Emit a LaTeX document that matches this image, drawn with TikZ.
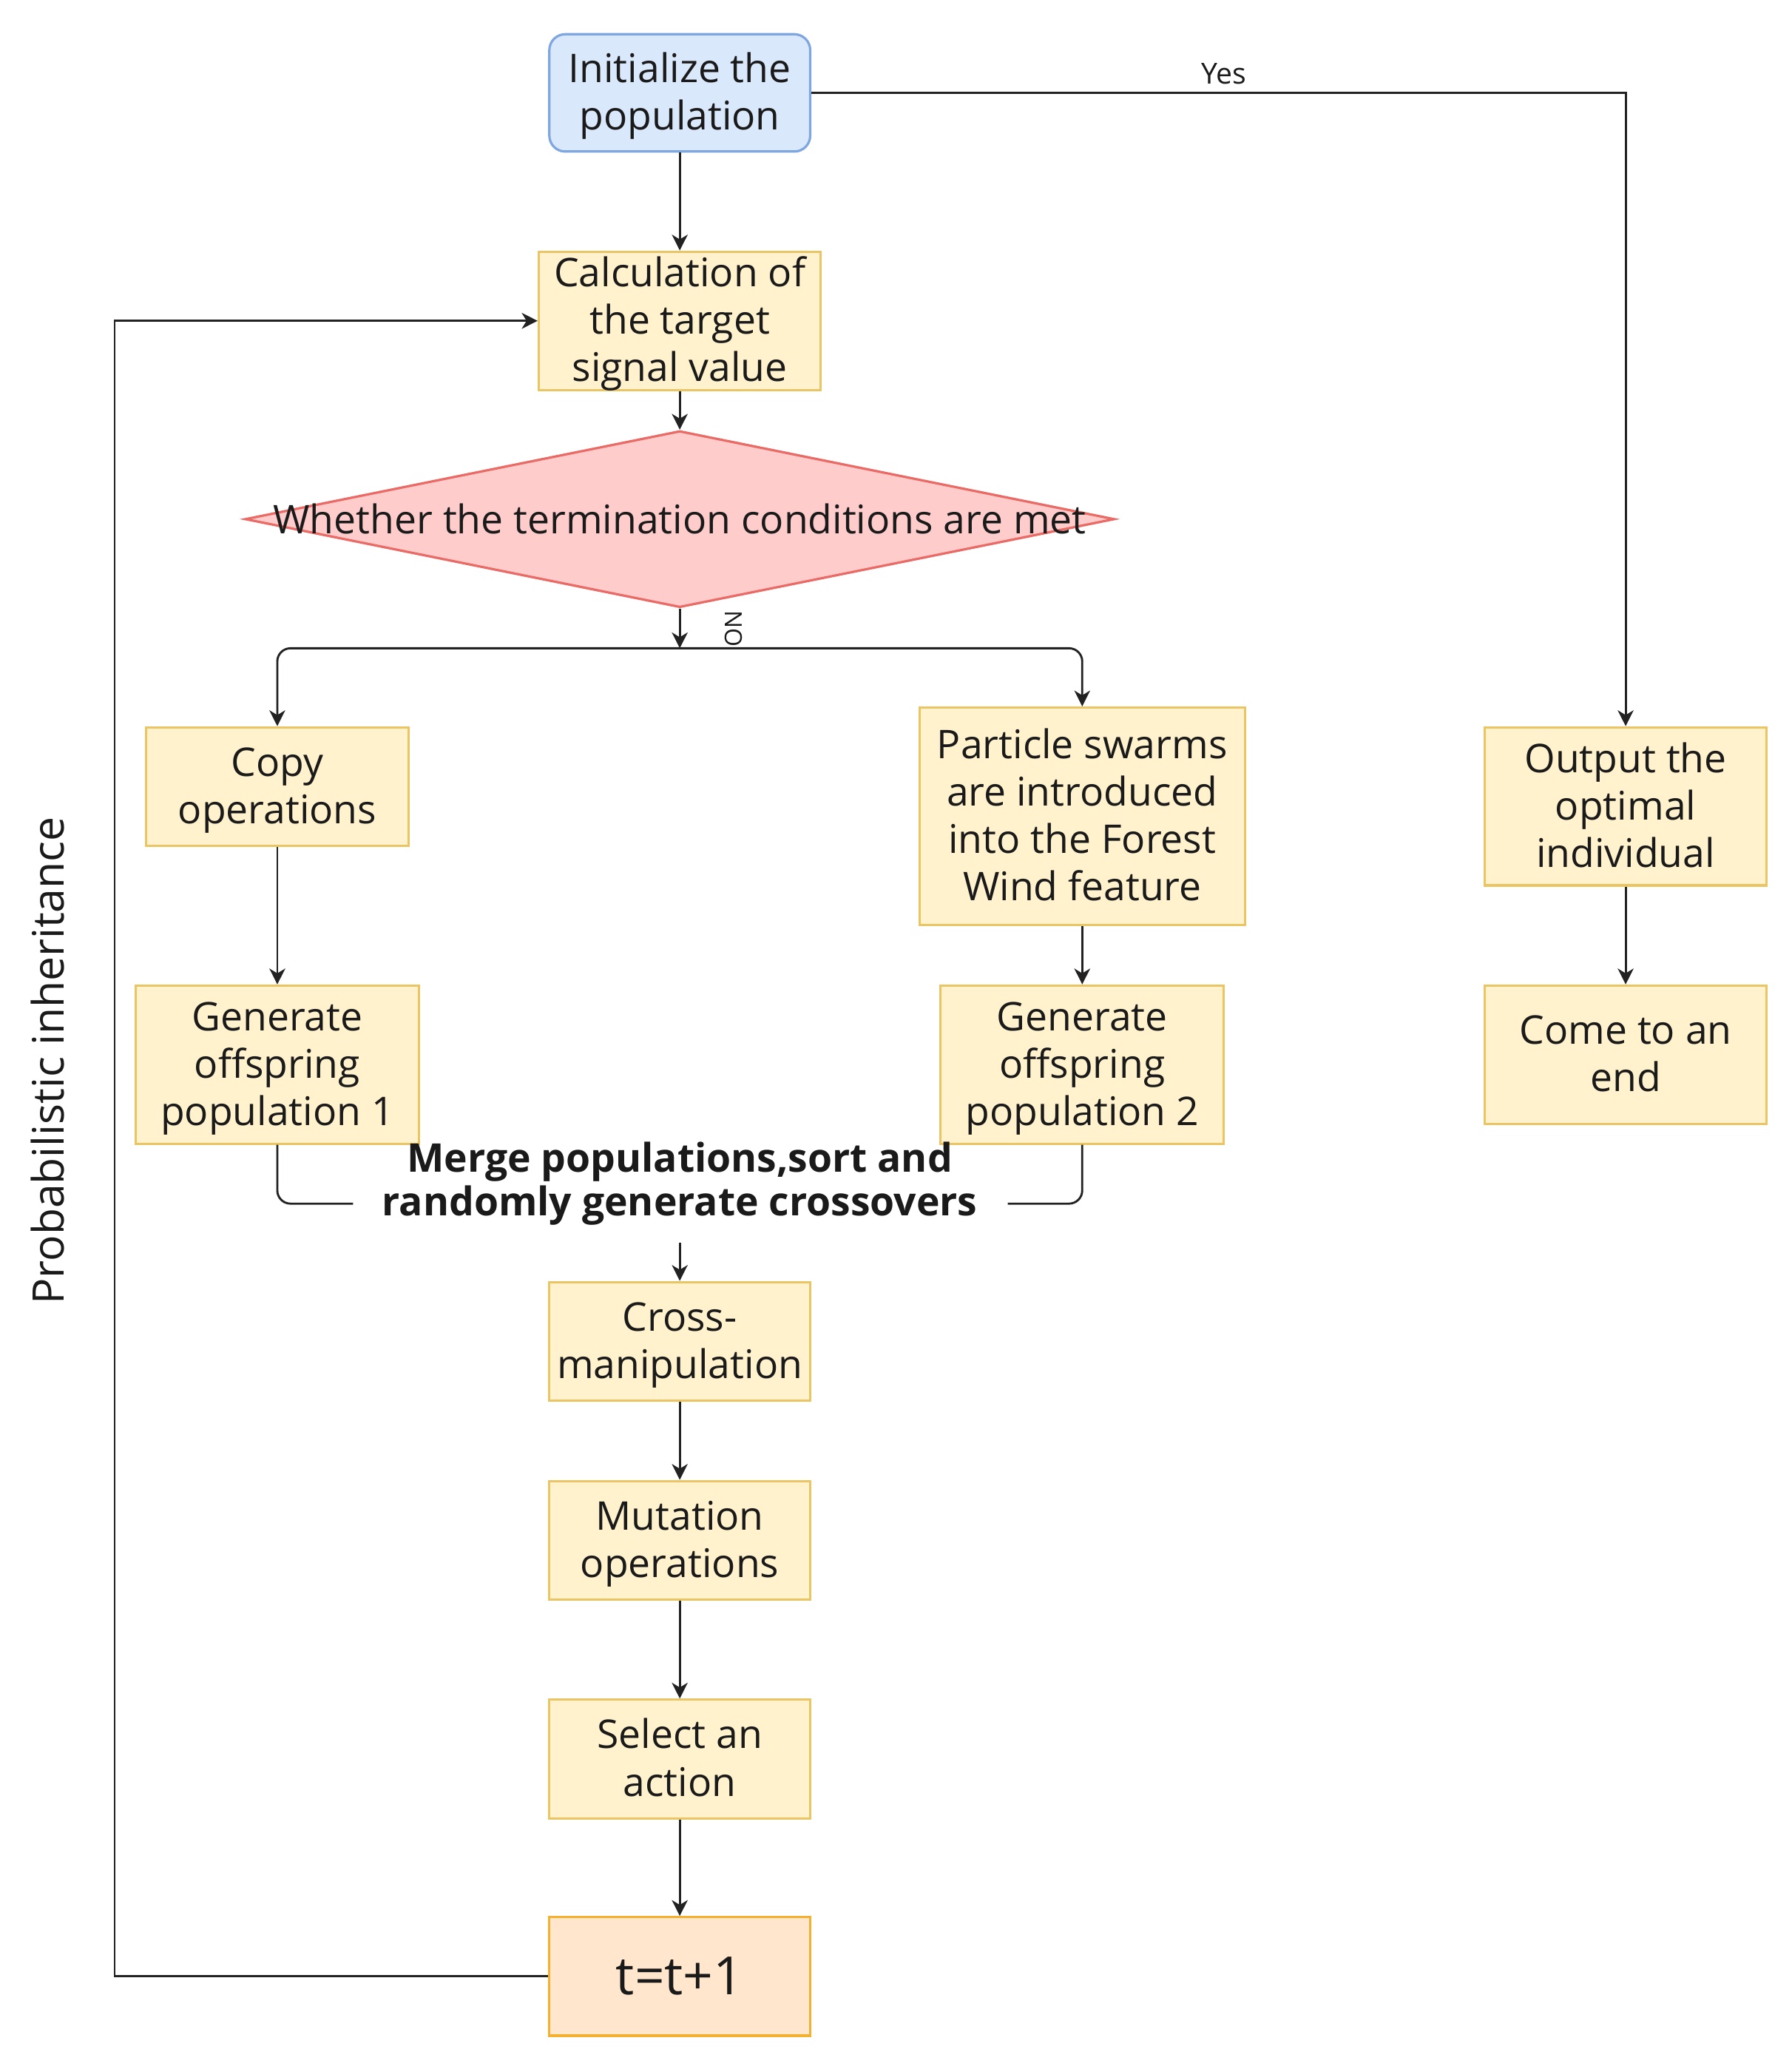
\documentclass[tikz,border=0pt]{standalone}
\usepackage{fontspec}
\setmainfont{Open Sans}
\usetikzlibrary{shapes.geometric,arrows.meta}
\definecolor{bfill}{HTML}{DAE8FC}
\definecolor{bdraw}{HTML}{7EA6E0}
\definecolor{yfill}{HTML}{FFF2CC}
\definecolor{ydraw}{HTML}{EBC463}
\definecolor{dfill}{HTML}{FFCCCC}
\definecolor{ddraw}{HTML}{EA6B66}
\definecolor{tfill}{HTML}{FFE6CC}
\definecolor{tdraw}{HTML}{F4B12F}
\definecolor{lncol}{HTML}{222222}
\definecolor{txt}{HTML}{1A1A1A}
\newcommand{\topstr}{\rule{0pt}{14.1pt}}
\newcommand{\botstr}{\rule[-4pt]{0pt}{4pt}}
\begin{document}
\begin{tikzpicture}[x=0.5pt,y=-0.5pt,
  base/.style={draw, line width=0.9pt, align=center, inner sep=0pt, text=txt,
    font=\fontsize{15}{18}\selectfont},
  ybox/.style={base, fill=yfill, draw=ydraw},
  plain/.style={align=center, inner sep=0pt, text=txt},
  ln/.style={draw=lncol, line width=0.8pt},
  arr/.style={ln, -{Stealth[length=6pt,width=6pt,inset=1.8pt]}},
]
\useasboundingbox (0,0) rectangle (1360,1568);

% nodes
\node[base, rounded corners=6pt, fill=bfill, draw=bdraw, minimum width=99pt, minimum height=44.5pt] (init) at (516,70.5) {\topstr Initialize the\\population\botstr};
\node[ybox, inner ysep=-1pt, minimum width=107pt, minimum height=52.5pt] (calc) at (516,243.5) {\topstr Calculation of\\the target\\signal value\botstr};
\node[diamond, draw=ddraw, fill=dfill, line width=0.9pt, minimum width=330pt, minimum height=67pt, inner sep=0pt,
  label={[plain, font=\fontsize{15}{18}\selectfont]center:Whether the termination conditions are met}] (dia) at (516,394) {};
\node[ybox, minimum width=99.5pt, minimum height=45pt] (copy) at (210.5,597) {\topstr Copy\\operations\botstr};
\node[ybox, minimum width=123.5pt, minimum height=82.5pt] (pso) at (821.5,619.5) {\topstr Particle swarms\\are introduced\\into the Forest\\Wind feature\botstr};
\node[ybox, minimum width=107.5pt, minimum height=60pt] (gen1) at (210.5,808) {\topstr Generate\\offspring\\population 1\botstr};
\node[ybox, minimum width=107.5pt, minimum height=60pt] (gen2) at (821.5,808) {\topstr Generate\\offspring\\population 2\botstr};
\node[ybox, minimum width=107pt, minimum height=60pt] (out) at (1234,612) {\topstr Output the\\optimal\\individual\botstr};
\node[ybox, minimum width=107pt, minimum height=52.5pt] (end) at (1234,800.5) {\topstr Come to an\\end\botstr};
\node[plain, font=\fontsize{15}{16.5}\selectfont\bfseries] (merge) at (516,898.5) {Merge populations,sort and\\randomly generate crossovers};
\node[ybox, minimum width=99pt, minimum height=45pt] (cross) at (516,1018) {\topstr Cross-\\manipulation\botstr};
\node[ybox, minimum width=99pt, minimum height=45pt] (mut) at (516,1169) {\topstr Mutation\\operations\botstr};
\node[ybox, minimum width=99pt, minimum height=45pt] (sel) at (516,1335) {\topstr Select an\\action\botstr};
\node[base, fill=tfill, draw=tdraw, minimum width=99pt, minimum height=45pt, font=\fontsize{20}{24}\selectfont] (tt) at (516,1500) {t=t+1};
\node[plain, rotate=90, font=\fontsize{16.5}{20}\selectfont] (prob) at (36,805) {Probabilistic inheritance};
\node[plain, rotate=-90, font=\fontsize{9}{11}\selectfont] (no) at (557,477) {NO};

% coordinates
\coordinate (jn) at (516,492);
\coordinate (mL) at (268,913.5);
\coordinate (mR) at (765,913.5);
\coordinate (mB) at (516,943);
\coordinate (fb) at (87,243.5);

% connectors
\draw[arr] (init) -- (calc);
\draw[arr] (calc) -- (dia);
\draw[arr] (dia.south) -- (jn);
\draw[arr, rounded corners=5pt] (jn) -| (copy.north);
\draw[arr, rounded corners=5pt] (jn) -| (pso.north);
\draw[arr] (init.east) -| node[pos=0.25, above=3pt, xshift=2pt, plain, font=\fontsize{11}{13}\selectfont] {Yes} (out.north);
\draw[arr] (copy) -- (gen1);
\draw[arr] (pso) -- (gen2);
\draw[arr] (out) -- (end);
\draw[ln, rounded corners=5pt] (gen1.south) |- (mL);
\draw[ln, rounded corners=5pt] (mR) -| (gen2.south);
\draw[arr] (mB) -- (cross.north);
\draw[arr] (cross) -- (mut);
\draw[arr] (mut) -- (sel);
\draw[arr] (sel) -- (tt);
\draw[arr] (tt.west) -| (fb) -- (calc.west);
\end{tikzpicture}
\end{document}
